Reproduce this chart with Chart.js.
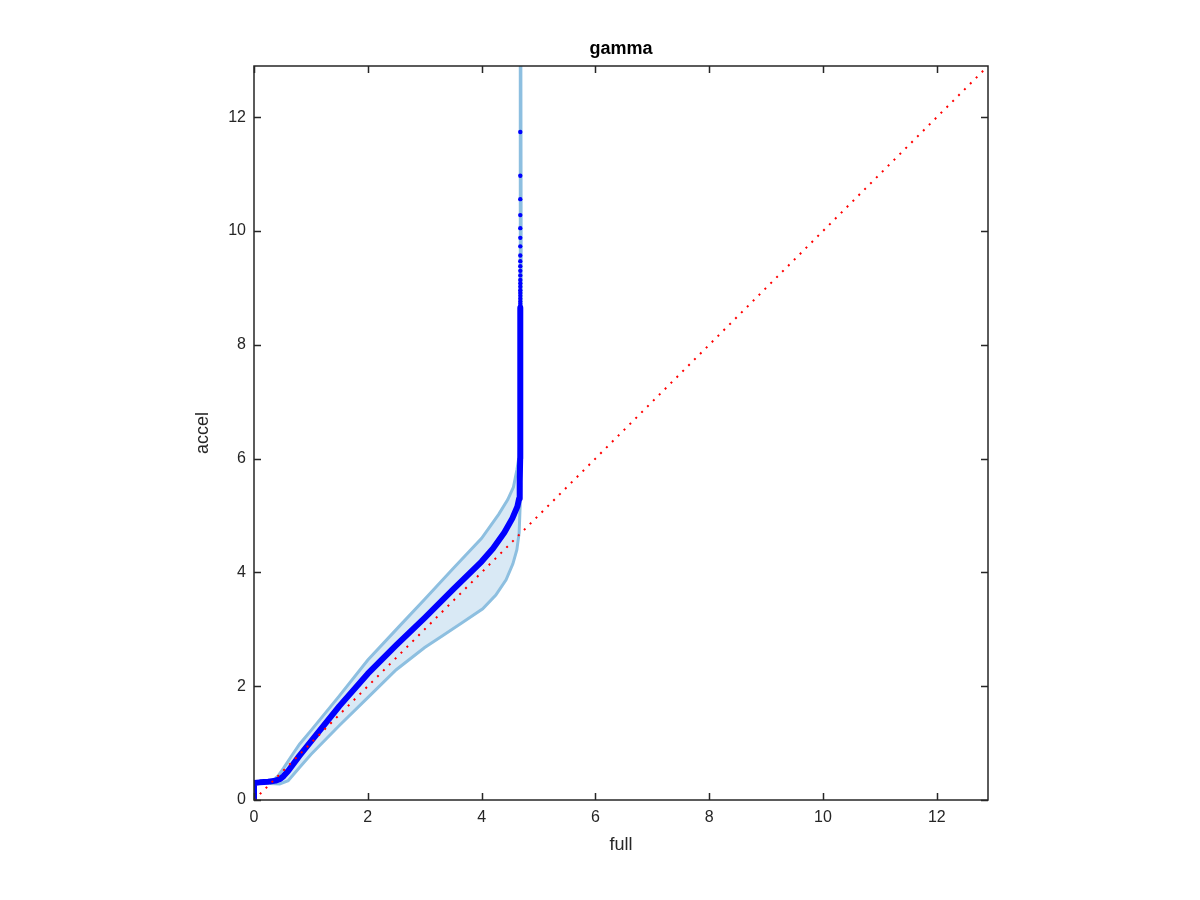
<!DOCTYPE html>
<html>
<head>
<meta charset="utf-8">
<script src="https://cdn.jsdelivr.net/npm/chart.js@4/dist/chart.umd.min.js"></script>
<style>
  html, body { margin: 0; padding: 0; background: #fff; }
  canvas { display: block; }
</style>
</head>
<body>
<canvas id="qq" width="1200" height="900"></canvas>
<script>
// axis setup
const axisMax = 12.9;
const tickVals = [0, 2, 4, 6, 8, 10, 12];

// main quantile curve (full vs accel)
const curveX = [0, 0, 0.10, 0.25, 0.38, 0.46, 0.52, 0.60, 0.80, 1.04, 1.50, 2.00, 2.50, 3.00, 3.50, 4.00, 4.20, 4.40, 4.54, 4.63, 4.66, 4.67, 4.678, 4.68, 4.68];
const curveY = [0, 0.30, 0.31, 0.32, 0.34, 0.37, 0.42, 0.51, 0.78, 1.08, 1.65, 2.22, 2.72, 3.20, 3.70, 4.19, 4.42, 4.70, 4.95, 5.16, 5.30, 5.60, 6.00, 7.00, 8.65];

// sparse points in the upper tail
const tailX = 4.68;
const tailY = [11.74, 10.97, 10.56, 10.28, 10.05, 9.88, 9.73, 9.57, 9.47, 9.38, 9.30, 9.22, 9.14, 9.08, 9.02, 8.96, 8.91, 8.86, 8.81, 8.76, 8.72, 8.68, 8.64];

// envelope band
const upperX = [0.28, 0.42, 0.52, 0.65, 0.80, 1.00, 1.50, 2.00, 2.56, 3.00, 3.50, 4.00, 4.30, 4.46, 4.56, 4.62, 4.66, 4.68, 4.69];
const upperY = [0.31, 0.42, 0.56, 0.76, 0.98, 1.22, 1.83, 2.46, 3.06, 3.53, 4.07, 4.60, 5.02, 5.28, 5.50, 5.80, 6.05, 6.60, 13.0];
const lowerX = [0.28, 0.45, 0.60, 0.80, 1.00, 1.50, 2.00, 2.50, 3.00, 3.30, 3.65, 4.02, 4.25, 4.43, 4.55, 4.62, 4.66, 4.69, 4.70];
const lowerY = [0.29, 0.28, 0.34, 0.57, 0.80, 1.31, 1.80, 2.29, 2.68, 2.88, 3.11, 3.36, 3.60, 3.87, 4.15, 4.40, 4.70, 5.50, 6.60];

// reference line y = x
const refX = [0, axisMax];
const refY = [0, axisMax];

const textColor = '#262626';
const fontFamily = '"Liberation Sans", Arial, Helvetica, sans-serif';

function toPoints(xs, ys) {
    return xs.map((x, i) => ({ x: x, y: ys[i] }));
}

// band as one closed shape: lower edge forward, upper edge back
const bandPoints = toPoints(lowerX, lowerY).concat(toPoints(upperX, upperY).reverse());
bandPoints.push({ x: lowerX[0], y: lowerY[0] });

// box around the axes with inward tick marks, plus the title
const framePlugin = {
    id: 'frame',
    afterDraw(chart) {
        const { ctx, chartArea: a, scales } = chart;
        const len = 7;
        ctx.save();
        ctx.strokeStyle = textColor;
        ctx.lineWidth = 1.5;
        ctx.strokeRect(a.left, a.top, a.right - a.left, a.bottom - a.top);
        ctx.beginPath();
        tickVals.forEach(v => {
            const px = Math.round(scales.x.getPixelForValue(v)) + 0.5;
            const py = Math.round(scales.y.getPixelForValue(v)) + 0.5;
            ctx.moveTo(px, a.bottom); ctx.lineTo(px, a.bottom - len);
            ctx.moveTo(px, a.top); ctx.lineTo(px, a.top + len);
            ctx.moveTo(a.left, py); ctx.lineTo(a.left + len, py);
            ctx.moveTo(a.right, py); ctx.lineTo(a.right - len, py);
        });
        ctx.stroke();

        ctx.fillStyle = '#000';
        ctx.font = 'bold 18px ' + fontFamily;
        ctx.textAlign = 'center';
        ctx.textBaseline = 'alphabetic';
        ctx.fillText('gamma', (a.left + a.right) / 2, a.top - 12);
        ctx.restore();
    }
};

function axisOptions(title, fit) {
    return {
        type: 'linear',
        min: 0,
        max: axisMax,
        afterBuildTicks: scale => { scale.ticks = tickVals.map(v => ({ value: v })); },
        afterFit: fit,
        grid: { display: false, drawTicks: false },
        border: { display: false },
        ticks: {
            color: textColor,
            font: { family: fontFamily, size: 16 },
            padding: 8,
            maxRotation: 0
        },
        title: {
            display: true,
            text: title,
            color: textColor,
            font: { family: fontFamily, size: 18 },
            padding: { top: 2, bottom: 4 }
        }
    };
}

new Chart(document.getElementById('qq'), {
    type: 'scatter',
    data: {
        datasets: [
            {
                // red dotted y = x
                data: toPoints(refX, refY),
                showLine: true,
                borderColor: '#ff0000',
                borderWidth: 2,
                borderDash: [2, 6.3],
                pointRadius: 0
            },
            {
                data: tailY.map(y => ({ x: tailX, y: y })),
                showLine: false,
                pointRadius: 2.2,
                pointBackgroundColor: '#0000ff',
                pointBorderWidth: 0
            },
            {
                data: toPoints(curveX, curveY),
                showLine: true,
                borderColor: '#0000ff',
                borderWidth: 6,
                borderJoinStyle: 'round',
                borderCapStyle: 'round',
                pointRadius: 0
            },
            {
                data: bandPoints,
                showLine: true,
                borderColor: '#8dbfe0',
                borderWidth: 3,
                backgroundColor: '#d9e9f5',
                fill: 'shape',
                pointRadius: 0
            }
        ]
    },
    options: {
        responsive: false,
        animation: false,
        layout: { padding: { left: 190, right: 212, top: 66, bottom: 40 } },
        plugins: {
            legend: { display: false },
            tooltip: { enabled: false }
        },
        scales: {
            x: axisOptions('full', s => { s.height = 60; }),
            y: axisOptions('accel', s => { s.width = 64; })
        }
    },
    plugins: [framePlugin]
});
</script>
</body>
</html>
